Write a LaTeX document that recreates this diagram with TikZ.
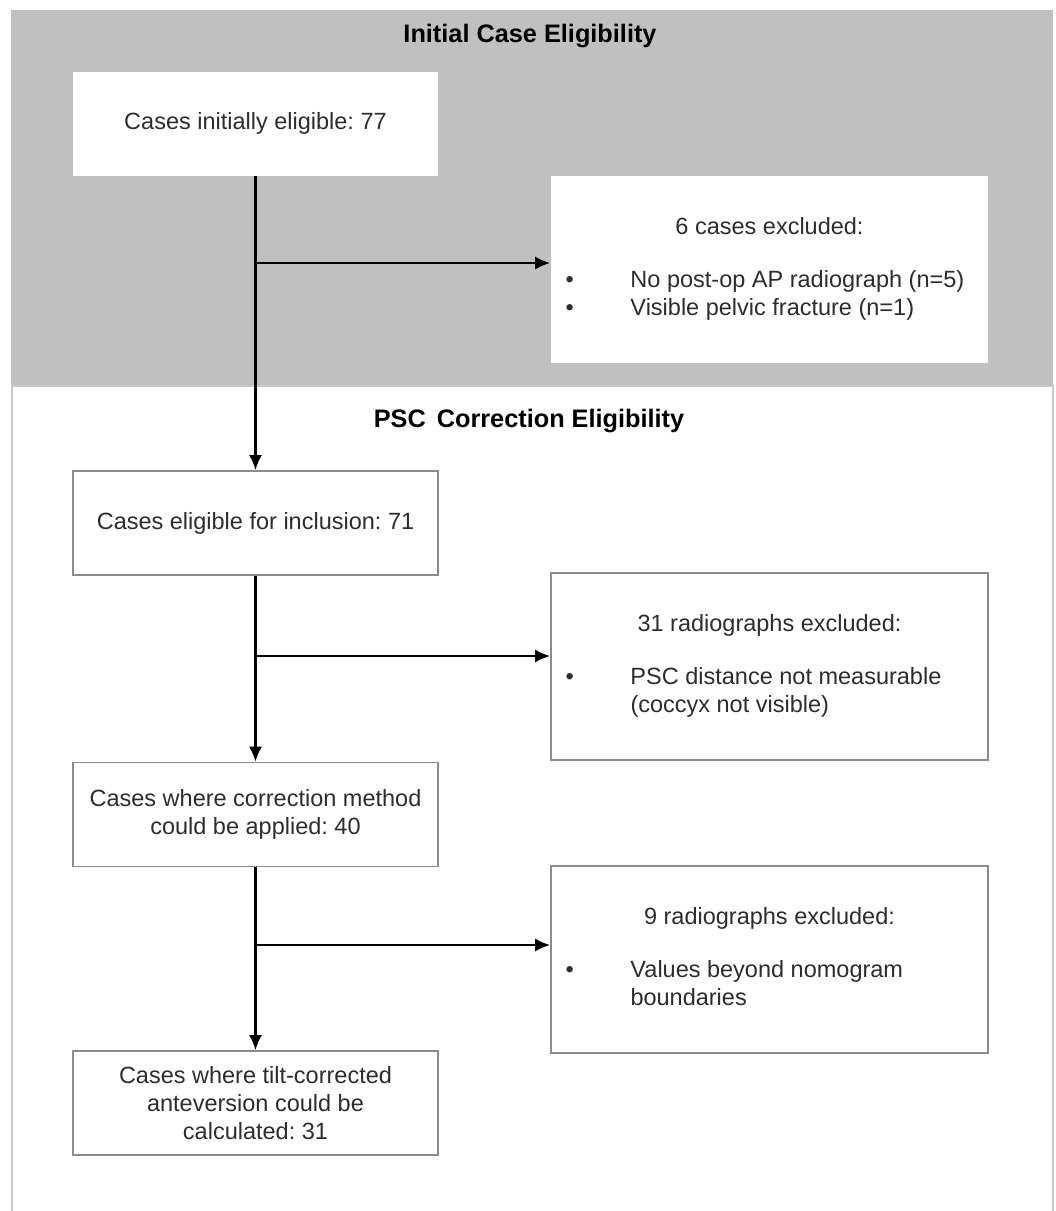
\documentclass[tikz,border=0pt]{standalone}
\usepackage{fontspec}
\setmainfont{Liberation Sans}
\usetikzlibrary{arrows.meta}
\frenchspacing

\definecolor{phasegray}{RGB}{192,192,192}
\definecolor{framegray}{RGB}{200,200,200}
\definecolor{boxgray}{RGB}{140,140,140}
\definecolor{textgray}{RGB}{45,45,45}

\tikzset{
  casebox/.style={fill=white, draw=boxgray, line width=1.6pt, minimum width=365pt, minimum height=104pt,
    inner sep=0pt, align=center, text=textgray, font=\fontsize{23.5}{28}\selectfont},
  exclbox/.style={casebox, minimum width=437pt, minimum height=187pt},
  phasetitle/.style={font=\fontsize{25.3}{30}\selectfont\bfseries},
  flow/.style={line width=2.2pt, -{Latex[length=15pt,width=13pt]}}
}

\begin{document}
\begin{tikzpicture}[x=1pt,y=-1pt]
        \useasboundingbox (0,0) rectangle (1056,1211);
        % the two phases
        \fill[phasegray] (11,10) rectangle (1053,386);
        \draw[framegray, line width=1.5pt] (12,1211) -- (12,386) -- (1053,386) -- (1053,1211);

        \node (T1) at (530,36) [phasetitle] {Initial Case Eligibility};
        \node (T2) at (529,421) [phasetitle] {PSC\hspace{4pt} Correction Eligibility};

        \node (A) at (255.5,123.5) [casebox, draw=none] {Cases initially eligible: 77};
        \node (B) at (769.5,269.5) [exclbox, draw=none] {\begin{tabular}{@{}p{65pt}@{}p{343pt}@{}}
            \multicolumn{2}{c}{6 cases excluded:}\\[25pt]
            \textbullet & No post-op AP radiograph (n=5)\\
            \textbullet & Visible pelvic fracture (n=1)
          \end{tabular}};
        \node (C) at (255.5,523) [casebox] {Cases eligible for inclusion: 71};
        \node (D) at (769.5,666.5) [exclbox] {\begin{tabular}{@{}p{65pt}@{}p{343pt}@{}}
            \multicolumn{2}{c}{31 radiographs excluded:}\\[25pt]
            \textbullet & PSC distance not measurable\\
            & (coccyx not visible)
          \end{tabular}};
        \node (E) at (255.5,814.5) [casebox] {Cases where correction method\\could be applied: 40};
        \node (F) at (769.5,959.5) [exclbox] {\begin{tabular}{@{}p{65pt}@{}p{343pt}@{}}
            \multicolumn{2}{c}{9 radiographs excluded:}\\[25pt]
            \textbullet & Values beyond nomogram\\
            & boundaries
          \end{tabular}};
        \node (G) at (255.5,1103) [casebox] {Cases where tilt-corrected\\anteversion could be\\calculated: 31};

        \coordinate (b1) at (255.5,263);
        \coordinate (b2) at (255.5,656);
        \coordinate (b3) at (255.5,945);

        \draw[flow] (A) -- (C);
        \draw[flow] (C) -- (E);
        \draw[flow] (E) -- (G);
        \draw[flow] (b1) -- (b1 -| B.west);
        \draw[flow] (b2) -- (b2 -| D.west);
        \draw[flow] (b3) -- (b3 -| F.west);

    \end{tikzpicture}
\end{document}
